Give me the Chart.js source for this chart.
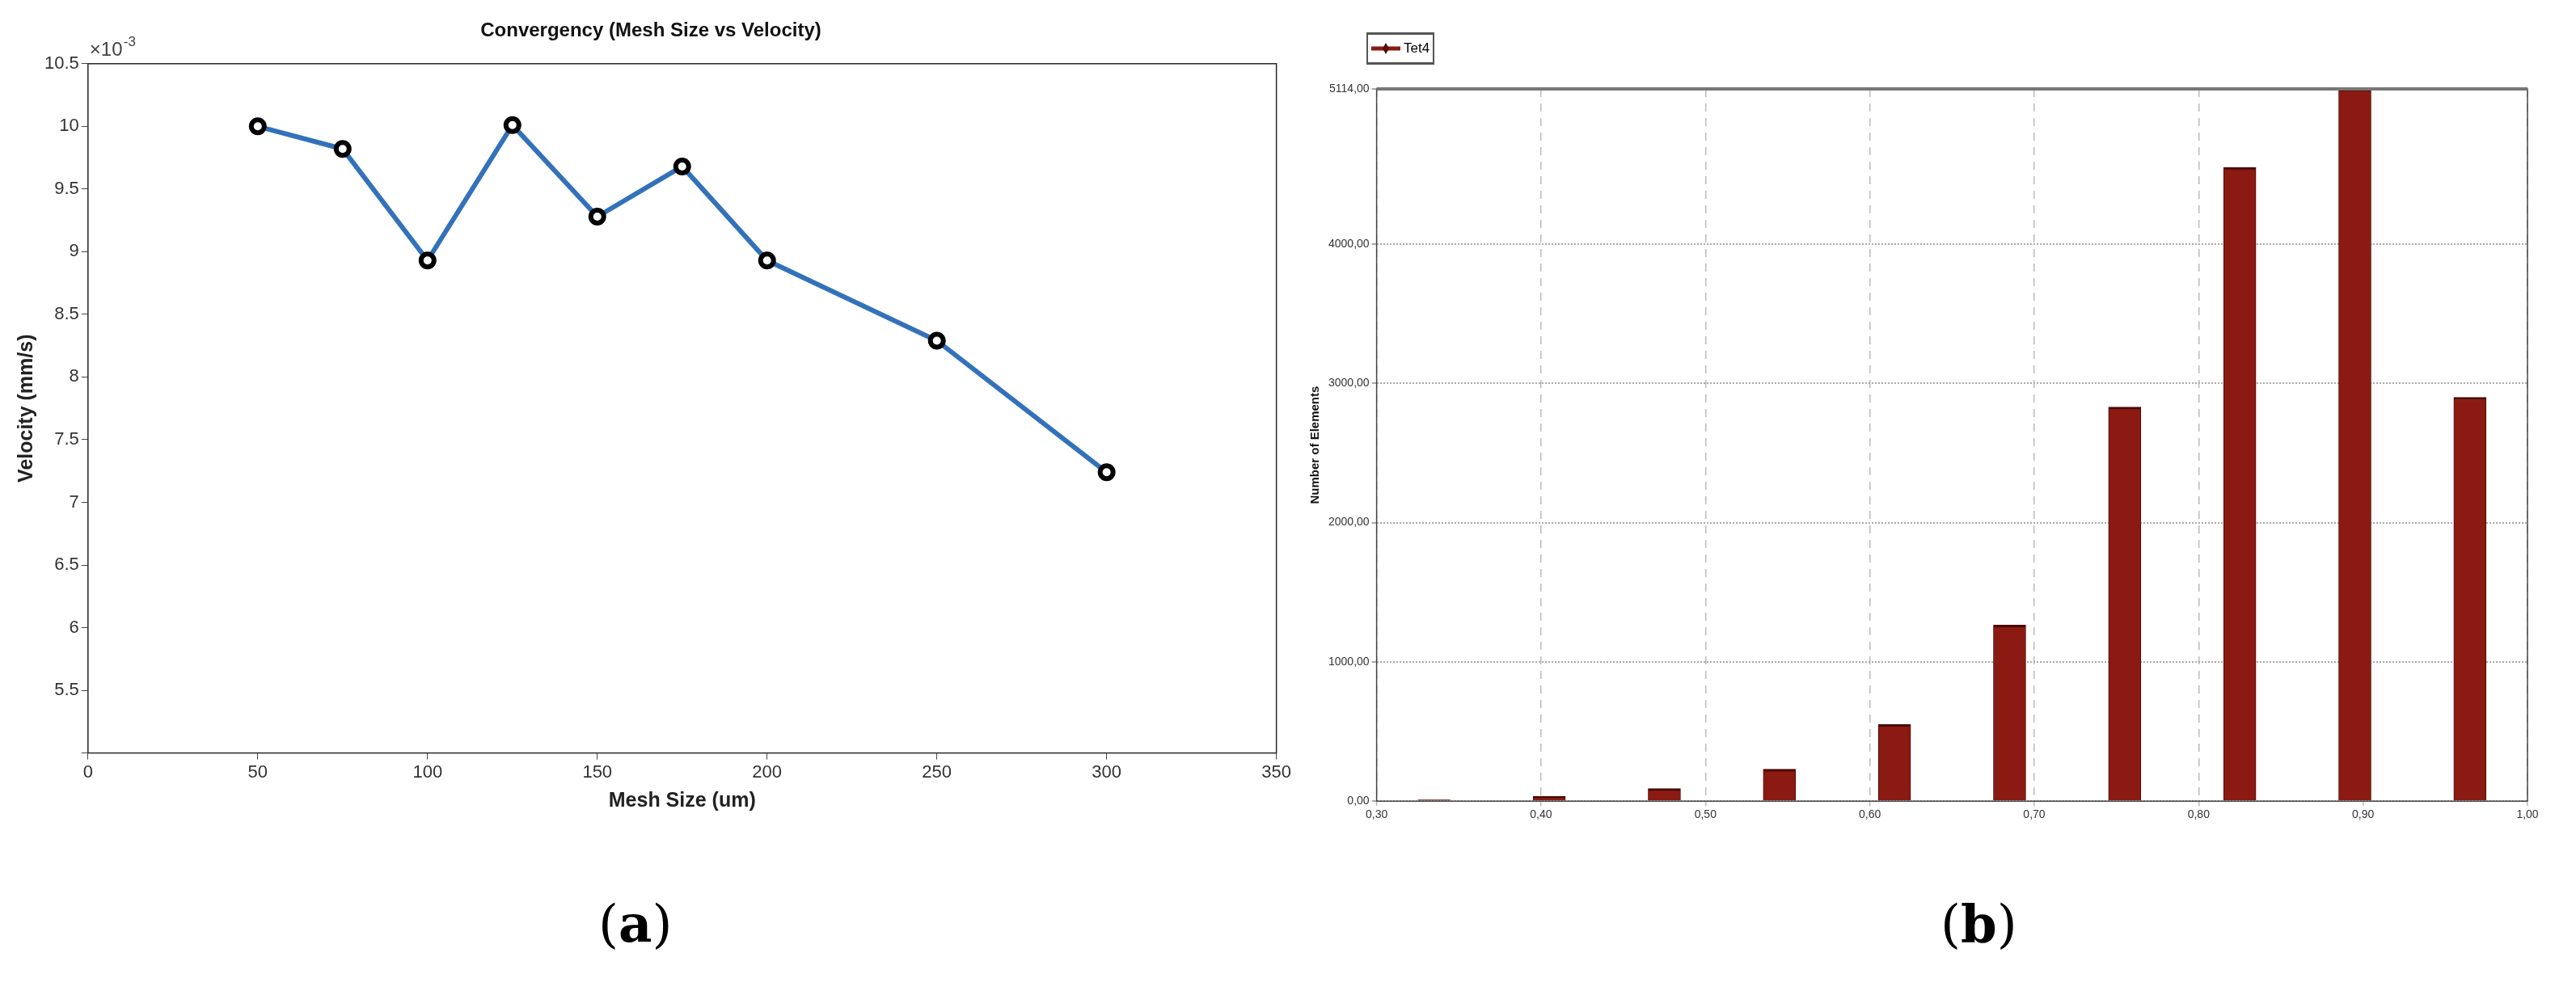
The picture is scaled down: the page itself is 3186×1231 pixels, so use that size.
<!DOCTYPE html>
<html><head>
<script src="https://cdn.jsdelivr.net/npm/chart.js@4.4.0/dist/chart.umd.min.js"></script>
<style>
body{margin:0;background:#fff;width:3186px;height:1231px;position:relative;overflow:hidden;font-family:"Liberation Sans",Arial,sans-serif}
.box{position:absolute}
.lab{position:absolute;font-family:"DejaVu Serif",serif;font-size:64px;top:1105px}
#legend{position:absolute;left:1690px;top:40px;width:80px;height:34px;border:2px solid #555;border-top-width:3px;border-bottom-width:3px;font-size:17px;font-family:"Liberation Sans Narrow","Liberation Sans",sans-serif}
</style></head><body>
<div class="box" style="left:0;top:0;width:1600px;height:1010px"><canvas id="c1"></canvas></div>
<div class="box" style="left:1600px;top:0;width:1586px;height:1030px"><canvas id="c2"></canvas></div>
<div id="legend"><svg width="40" height="34" style="position:absolute;left:2px;top:0"><line x1="2" y1="17" x2="38" y2="17" stroke="#8b1a12" stroke-width="5"/><path d="M20 10 L24 17 L20 24 L16 17Z" fill="#5a0d08"/></svg><span style="position:absolute;left:44px;top:7px">Tet4</span></div>
<div class="lab" style="left:740px">(<b>a</b>)</div>
<div class="lab" style="left:2400px">(<b>b</b>)</div>
<script>
Chart.defaults.font.family = '"Liberation Sans", Arial, sans-serif';
Chart.defaults.color = '#333';

const meshSize = [50, 75, 100, 125, 150, 175, 200, 250, 300];
const velocity = [10.0, 9.82, 8.93, 10.01, 9.28, 9.68, 8.93, 8.29, 7.24];

const binCenters = [0.335, 0.405, 0.475, 0.545, 0.615, 0.685, 0.755, 0.825, 0.895, 0.965];
const elementCounts = [10, 35, 90, 230, 550, 1265, 2830, 4550, 5114, 2900];
const countTicks = [0, 1000, 2000, 3000, 4000, 5114];

const exponentLabel = {
  id: 'exponentLabel',
  afterDraw(chart) {
    const ctx = chart.ctx, a = chart.chartArea;
    ctx.save();
    ctx.fillStyle = '#444';
    ctx.font = '24px "Liberation Sans"';
    ctx.fillText('\u00d710', a.left + 2, a.top - 10);
    ctx.font = '17px "Liberation Sans"';
    ctx.fillText('-3', a.left + 44, a.top - 22);
    ctx.restore();
  }
};

const boxBorder = {
  id: 'boxBorder',
  afterDraw(chart) {
    const ctx = chart.ctx, a = chart.chartArea;
    ctx.save();
    ctx.strokeStyle = chart.canvas.id === 'c1' ? '#262626' : '#444';
    ctx.lineWidth = 1.5;
    ctx.strokeRect(a.left, a.top, a.right - a.left, a.bottom - a.top);
    if (chart.canvas.id === 'c2') {
      ctx.strokeStyle = '#777'; ctx.lineWidth = 4;
      ctx.beginPath(); ctx.moveTo(a.left, a.top); ctx.lineTo(a.right, a.top); ctx.stroke();
    }
    ctx.restore();
  }
};

new Chart(document.getElementById('c1'), {
  type: 'line',
  data: {
    datasets: [{
      data: meshSize.map((x, i) => ({x, y: velocity[i]})),
      borderColor: '#3372ba',
      borderWidth: 6,
      pointRadius: 8,
      pointBorderWidth: 6,
      pointBorderColor: '#000',
      pointBackgroundColor: '#fff',
      tension: 0
    }]
  },
  options: {
    responsive: true, maintainAspectRatio: false, animation: false, devicePixelRatio: 1,
    layout: {padding: {left: 14, right: 4, top: 10, bottom: 0}},
    plugins: {
      legend: {display: false},
      title: {display: true, text: 'Convergency (Mesh Size vs Velocity)', color: '#111',
        font: {size: 24, weight: 'bold'}, padding: {top: 14, bottom: 26}}
    },
    scales: {
      x: {type: 'linear', min: 0, max: 350,
        ticks: {stepSize: 50, font: {size: 22}, color: '#333'},
        grid: {drawOnChartArea: false, tickLength: 8, color: '#444'},
        title: {display: true, text: 'Mesh Size (um)', color: '#222', font: {size: 25, weight: 'bold'}}},
      y: {min: 5.0, max: 10.5,
        ticks: {stepSize: 0.5, font: {size: 22}, color: '#333',
          callback: v => v === 5 ? '' : String(v)},
        grid: {drawOnChartArea: false, tickLength: 8, color: '#444'},
        title: {display: true, text: 'Velocity (mm/s)', color: '#222', font: {size: 25, weight: 'bold'}}}
    }
  },
  plugins: [exponentLabel, boxBorder]
});

new Chart(document.getElementById('c2'), {
  type: 'bar',
  data: {
    datasets: [{
      data: binCenters.map((x, i) => ({x, y: elementCounts[i]})),
      backgroundColor: '#8b1a12',
      borderColor: '#4a0a05',
      borderWidth: {top: 3, left: 1, right: 1, bottom: 0},
      borderSkipped: false,
      barThickness: 40
    }]
  },
  options: {
    responsive: true, maintainAspectRatio: false, animation: false, devicePixelRatio: 1,
    layout: {padding: {left: 14, right: 60, top: 110, bottom: 10}},
    plugins: {legend: {display: false}, tooltip: {enabled: false}},
    scales: {
      x: {type: 'linear', min: 0.30, max: 1.00, offset: false,
        afterBuildTicks: s => { s.ticks = [0.3,0.4,0.5,0.6,0.7,0.8,0.9,1.0].map(v => ({value: v})); },
        ticks: {font: {size: 14, family: '"Liberation Sans Narrow","Liberation Sans"'}, color: '#333',
          callback: v => v.toFixed(2).replace('.', ',')},
        grid: {color: '#bbb', lineWidth: 1.5, tickLength: 6, offset: false},
        border: {dash: [10, 8]}
      },
      y: {min: 0, max: 5114,
        afterBuildTicks: s => { s.ticks = countTicks.map(v => ({value: v})); },
        ticks: {font: {size: 14, family: '"Liberation Sans Narrow","Liberation Sans"'}, color: '#333',
          callback: v => v.toFixed(2).replace('.', ',')},
        grid: {color: '#aaa', lineWidth: 2, tickLength: 6},
        border: {dash: [2, 2]},
        title: {display: true, text: 'Number of Elements', color: '#111', font: {size: 15, weight: 'bold'}}}
    }
  },
  plugins: [boxBorder]
});
</script>
</body></html>
